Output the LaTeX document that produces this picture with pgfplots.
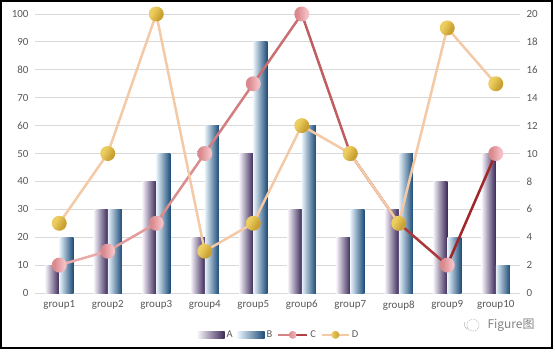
\documentclass[border=0pt]{standalone}
\usepackage{pgfplots}
\pgfplotsset{compat=1.18}
\usepackage{fontspec}
\setmainfont{Carlito}
\newfontfamily\cjk{Noto Sans CJK SC}
\definecolor{tickc}{HTML}{595959}
\definecolor{gridc}{HTML}{D9D9D9}
\definecolor{aL}{HTML}{F6F3F9}
\definecolor{aM}{HTML}{B4A7CA}
\definecolor{aR}{HTML}{3C2A5A}
\definecolor{bL}{HTML}{E8F3FB}
\definecolor{bM}{HTML}{A4CDE7}
\definecolor{bR}{HTML}{1E4D78}
\definecolor{cL}{HTML}{EBAAAA}
\definecolor{cR}{HTML}{A0262A}
\definecolor{cpL}{HTML}{DA8A8E}
\definecolor{cpR}{HTML}{F3BEC4}
\definecolor{dline}{HTML}{F3C9A6}
\definecolor{dgL}{HTML}{ECCD60}
\definecolor{dgR}{HTML}{C9A031}
\pgfdeclarehorizontalshading{pinkshade}{100bp}{color(0bp)=(cpL); color(35bp)=(cpL); color(65bp)=(cpR); color(100bp)=(cpR)}
\pgfdeclarehorizontalshading{goldshade}{100bp}{color(0bp)=(dgL); color(35bp)=(dgL); color(65bp)=(dgR); color(100bp)=(dgR)}
\pgfdeclareplotmark{pinkball}{\pgfpathcircle{\pgfpointorigin}{\pgfplotmarksize}\pgfshadepath{pinkshade}{0}\pgfusepath{discard}}
\pgfdeclareplotmark{goldball}{\pgfpathcircle{\pgfpointorigin}{\pgfplotmarksize}\pgfshadepath{goldshade}{-30}\pgfusepath{discard}}
\newcommand{\barA}[2]{\addplot[ybar, bar width=0.29, bar shift=-0.145, draw=none, left color=aL, middle color=aM, right color=aR, forget plot] coordinates {(#1,#2)};}
\newcommand{\barB}[2]{\addplot[ybar, bar width=0.29, bar shift=0.145, draw=none, left color=bL, middle color=bM, right color=bR, forget plot] coordinates {(#1,#2)};}
\begin{document}
\begin{tikzpicture}[x=1bp,y=1bp]
\useasboundingbox (-35,-59) rectangle (520,293);
\begin{axis}[
  at={(0,0)}, anchor=south west, scale only axis,
  width=485bp, height=279bp,
  xmin=-0.5, xmax=9.5, ymin=0, ymax=100,
  xtick={0,...,9},
  xticklabels={group1,group2,group3,group4,group5,group6,group7,group8,group9,group10},
  ytick={0,10,...,100},
  ymajorgrids, grid style={draw=gridc, line width=0.8bp},
  axis x line*=bottom, axis y line*=left,
  x axis line style={draw=gridc, line width=0.8bp, -},
  y axis line style={draw=none},
  major tick length=0pt,
  tick label style={font=\fontsize{11}{13}\selectfont, text=tickc},
  /pgf/number format/assume math mode=true,
  yticklabel style={xshift=-3bp},
  xticklabel style={yshift=-4bp},
  legend columns=4,
  legend style={at={(0.503,-0.15)}, anchor=center, draw=none, fill=none,
    font=\fontsize{10.5}{12}\selectfont, text=tickc,
    /tikz/every even column/.append style={column sep=3bp},
    inner sep=0pt},
]
% series A
\barA{0}{10}\barA{1}{30}\barA{2}{40}\barA{3}{20}\barA{4}{50}
\barA{5}{30}\barA{6}{20}\barA{7}{30}\barA{8}{40}\barA{9}{50}
% series B
\barB{0}{20}\barB{1}{30}\barB{2}{50}\barB{3}{60}\barB{4}{90}
\barB{5}{60}\barB{6}{30}\barB{7}{50}\barB{8}{20}\barB{9}{10}
\addlegendimage{legend image code/.code={\path[draw=none, left color=aL, middle color=aM, right color=aR] (0,-3.5bp) rectangle (27bp,3.5bp);}}
\addlegendentry{A}
\addlegendimage{legend image code/.code={\path[draw=none, left color=bL, middle color=bM, right color=bR] (0,-3.5bp) rectangle (27bp,3.5bp);}}
\addlegendentry{B}
\addlegendimage{legend image code/.code={\draw[cL!70!cR, line width=2bp] (0,0)--(14bp,0); \draw[cR!80!cL, line width=2bp] (14bp,0)--(29bp,0); \path[draw=none, left color=cpL, right color=cpR] (14.5bp,0) circle (4bp);}}
\addlegendentry{C}
\addlegendimage{legend image code/.code={\draw[dline, line width=2bp] (0,0)--(27bp,0); \path[draw=none, left color=dgL, right color=dgR] (13.5bp,0) circle (4bp);}}
\addlegendentry{D}
\end{axis}
\begin{axis}[
  at={(0,0)}, anchor=south west, scale only axis,
  width=485bp, height=279bp,
  xmin=-0.5, xmax=9.5, ymin=0, ymax=20,
  axis x line=none, axis y line*=right,
  y axis line style={draw=none},
  ytick={0,2,...,20},
  major tick length=0pt,
  tick label style={font=\fontsize{11}{13}\selectfont, text=tickc},
  /pgf/number format/assume math mode=true,
  yticklabel style={xshift=3bp},
  clip=false,
]
\addplot[cR!0!cL, line width=2.5bp, line cap=round] coordinates {(0,2)(1,3)};
\addplot[cR!11!cL, line width=2.5bp, line cap=round] coordinates {(1,3)(2,5)};
\addplot[cR!22!cL, line width=2.5bp, line cap=round] coordinates {(2,5)(3,10)};
\addplot[cR!33!cL, line width=2.5bp, line cap=round] coordinates {(3,10)(4,15)};
\addplot[cR!44!cL, line width=2.5bp, line cap=round] coordinates {(4,15)(5,20)};
\addplot[cR!58!cL, line width=2.5bp, line cap=round] coordinates {(5,20)(6,10)};
\addplot[cR!72!cL, line width=2.5bp, line cap=round] coordinates {(6,10)(7,5)};
\addplot[cR!86!cL, line width=2.5bp, line cap=round] coordinates {(7,5)(8,2)};
\addplot[cR!100!cL, line width=2.5bp, line cap=round] coordinates {(8,2)(9,10)};
\addplot[only marks, mark=pinkball, mark size=7.5bp]
  coordinates {(0,2)(1,3)(2,5)(3,10)(4,15)(5,20)(6,10)(7,5)(8,2)(9,10)};
\addplot[dline, line width=2.5bp, line join=round, mark=goldball, mark size=7.5bp]
  coordinates {(0,5)(1,10)(2,20)(3,3)(4,5)(5,12)(6,10)(7,5)(8,19)(9,15)};
\end{axis}
\draw[black, line width=1.5bp] (-34,292) rectangle (517,-55);
\draw[gray!50, line width=0.6bp, dash pattern=on 1.5bp off 1bp] (438,-32) circle (6bp);
\draw[gray!50, line width=0.6bp] (430,-29) arc (150:250:5bp);
\node[text=gray, font=\cjk\fontsize{12}{14}\selectfont, anchor=west] at (449,-32) {Figure图};
\end{tikzpicture}
\end{document}
